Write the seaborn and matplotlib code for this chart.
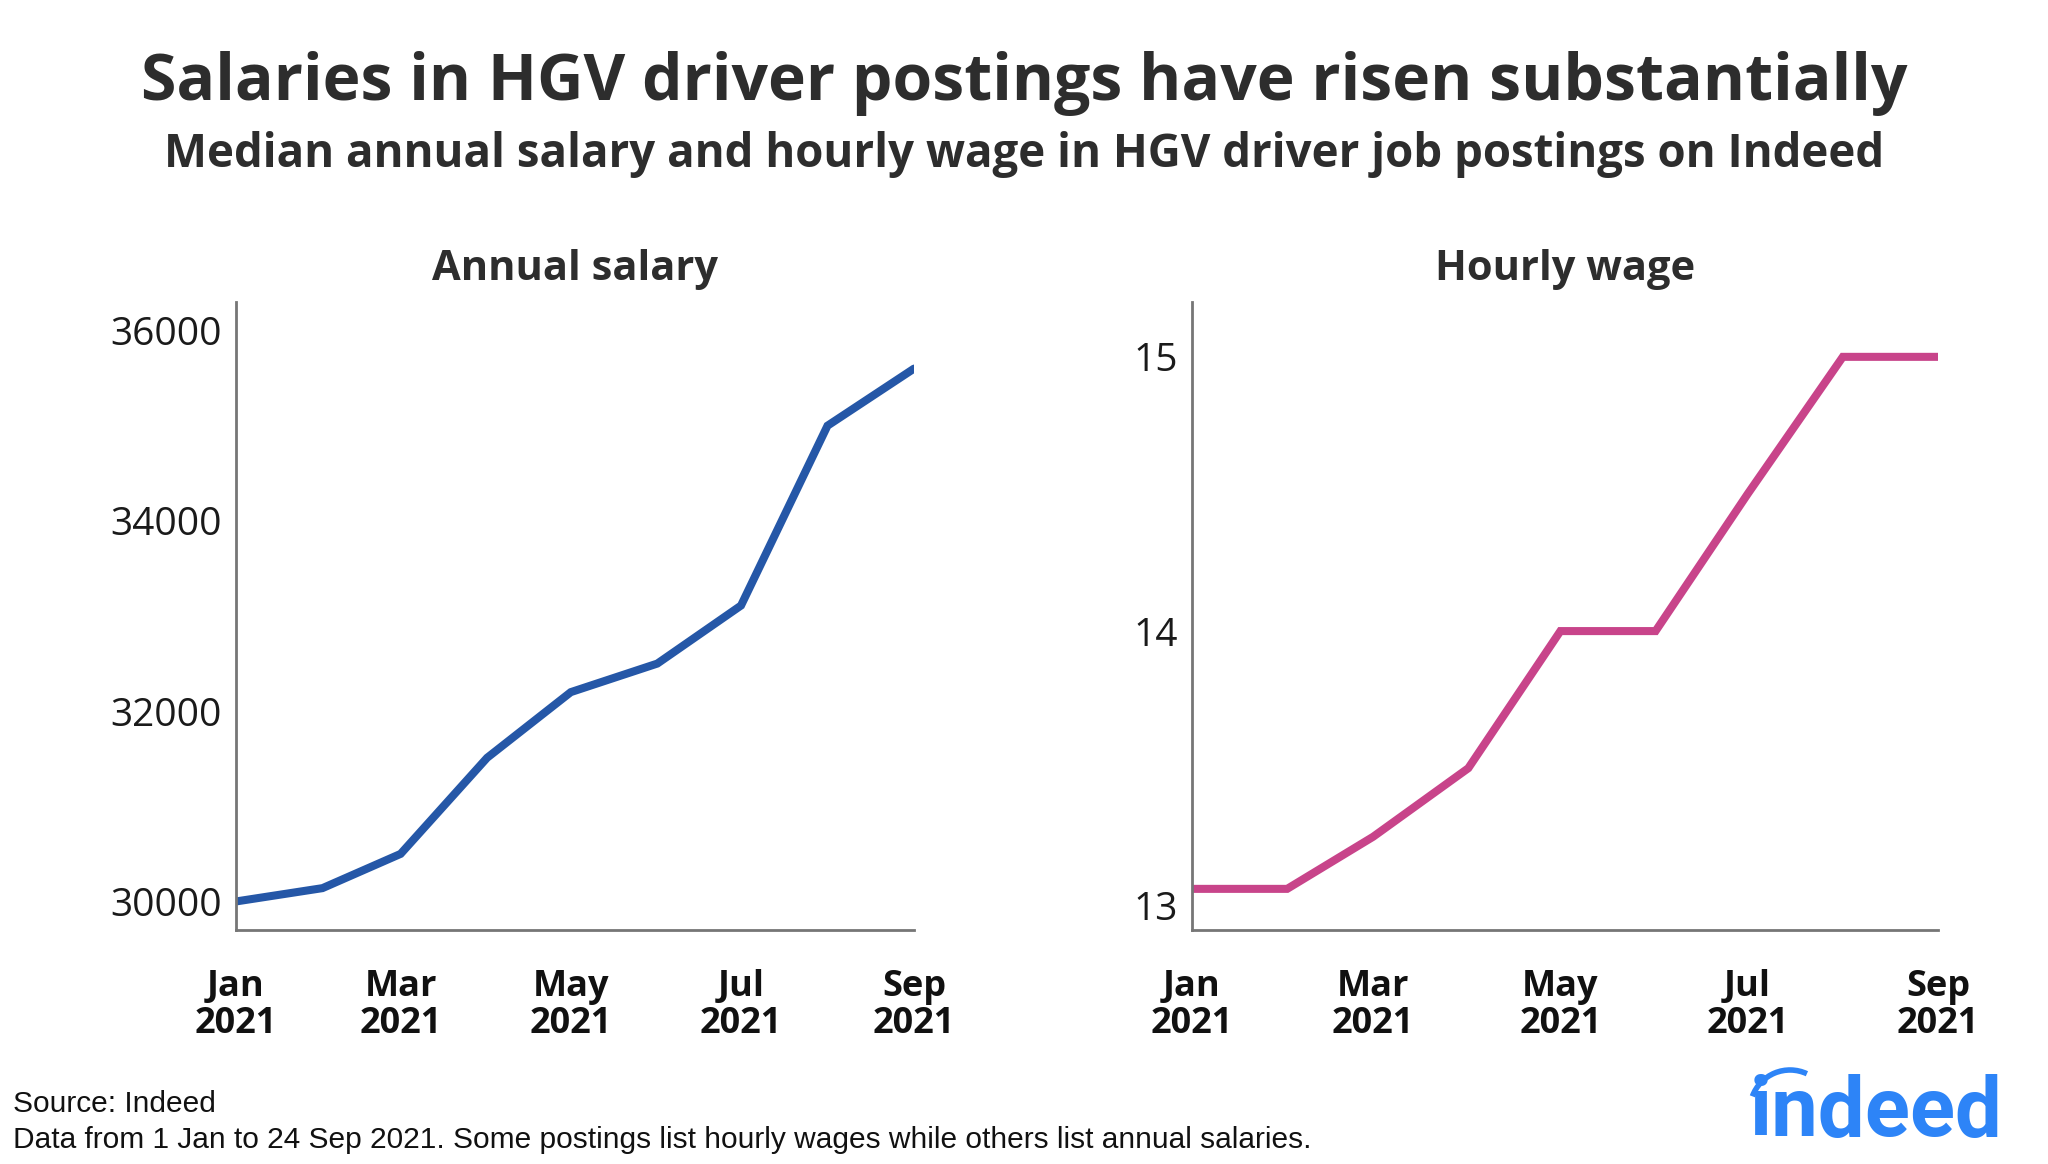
"""Median annual salary and hourly wage in HGV driver postings."""

import matplotlib

matplotlib.use("Agg")

import matplotlib.dates as mdates
import matplotlib.pyplot as plt
import pandas as pd
import seaborn as sns
from matplotlib.patches import Arc

months = pd.date_range("2021-01-01", "2021-09-01", freq="MS")
annual_salary = [30000, 30140, 30500, 31510, 32200, 32500, 33110, 35000, 35600]
hourly_wage = [13.06, 13.06, 13.25, 13.5, 14.0, 14.0, 14.5, 15.0, 15.0]
annual_ticks = [30000, 32000, 34000, 36000]
hourly_ticks = [13, 14, 15]

title = "Salaries in HGV driver postings have risen substantially"
subtitle = "Median annual salary and hourly wage in HGV driver job postings on Indeed"
source_lines = [
    "Source: Indeed",
    "Data from 1 Jan to 24 Sep 2021. Some postings list hourly wages while others list annual salaries.",
]

BLUE = "#2557a7"
PINK = "#c8448a"
DARK = "#2d2d2d"
SPINE = "#767676"

sns.set_theme(style="white")
plt.rcParams["font.family"] = ["Open Sans", "DejaVu Sans"]

df = pd.DataFrame({"Month": months, "Annual": annual_salary, "Hourly": hourly_wage})

fig = plt.figure(figsize=(20.48, 11.64), dpi=100)
W, H = 2048, 1164


def axes_px(x0, y0, x1, y1):
    return fig.add_axes([x0 / W, 1 - y1 / H, (x1 - x0) / W, (y1 - y0) / H])


ax1 = axes_px(236, 302, 914, 930)
ax2 = axes_px(1192, 302, 1938, 930)

panels = [
    (ax1, "Annual", BLUE, "Annual salary", (29700, 36300), annual_ticks),
    (ax2, "Hourly", PINK, "Hourly wage", (12.91, 15.2), hourly_ticks),
]

for ax, col, color, name, ylim, yticks in panels:
    sns.lineplot(data=df, x="Month", y=col, ax=ax, color=color, linewidth=5.8,
                 solid_joinstyle="miter")
    ax.set_xlim(months[0], months[-1])
    ax.set_ylim(*ylim)
    ax.set_yticks(yticks)
    ax.set_yticklabels([str(t) for t in yticks], fontsize=28, color="#1a1a1a")
    ax.xaxis.set_major_locator(mdates.MonthLocator(bymonth=[1, 3, 5, 7, 9]))
    ax.xaxis.set_major_formatter(mdates.DateFormatter("%b\n%Y"))
    for lab in ax.get_xticklabels():
        lab.set_fontsize(26)
        lab.set_fontweight("bold")
        lab.set_color("#111111")
        lab.set_linespacing(1.05)
    ax.tick_params(axis="x", length=0, pad=28)
    ax.tick_params(axis="y", length=0, pad=10)
    ax.set_xlabel("")
    ax.set_ylabel("")
    ax.set_title(name, fontsize=30, fontweight="bold", color=DARK, pad=16)
    sns.despine(ax=ax)
    for side in ["left", "bottom"]:
        ax.spines[side].set_color(SPINE)
        ax.spines[side].set_linewidth(2)

fig.text(0.5, 1 - 84 / H, title, ha="center", va="center", fontsize=46.3,
         fontweight="bold", color=DARK)
fig.text(0.5, 1 - 155 / H, subtitle, ha="center", va="center", fontsize=32.9,
         fontweight="bold", color=DARK)

foot_font = ["Liberation Sans", "DejaVu Sans"]
fig.text(13 / W, 1 - 1104 / H, source_lines[0], ha="left", va="center",
         fontsize=21.5, family=foot_font, color="#111111")
fig.text(13 / W, 1 - 1140 / H, source_lines[1], ha="left", va="center",
         fontsize=21.5, family=foot_font, color="#111111")

# indeed wordmark
fig.text(2002 / W, 1 - 1136 / H, "indeed", ha="right", va="baseline", fontsize=60,
         fontweight="bold", family=["Roboto", "DejaVu Sans"], color="#2d84f7")
logo_ax = fig.add_axes([0, 0, 1, 1], zorder=5)
logo_ax.set_xlim(0, W)
logo_ax.set_ylim(H, 0)
logo_ax.axis("off")
logo_ax.add_patch(Arc((1790, 1110), 80, 80, theta1=200, theta2=295,
                      color="#2d84f7", linewidth=4))

fig.savefig("out.png", dpi=100)
